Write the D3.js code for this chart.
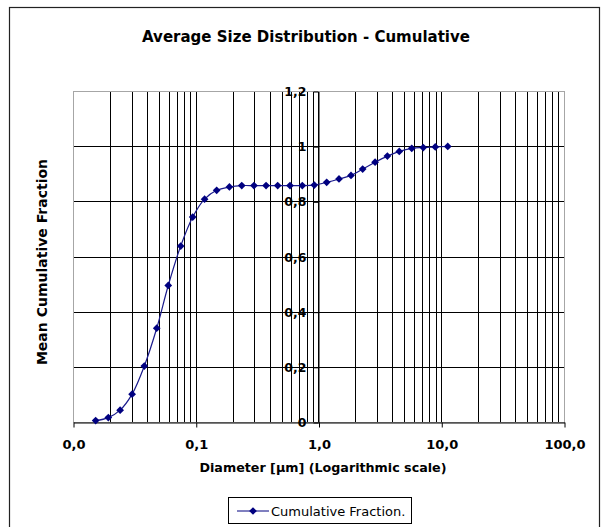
<!DOCTYPE html>
<html>
<head>
<meta charset="utf-8">
<script src="https://cdn.jsdelivr.net/npm/d3@7"></script>
<style>
  body { margin: 0; background: #fff; }
  text { font-family: "DejaVu Sans", "Liberation Sans", Arial, sans-serif; }
</style>
</head>
<body>
<script>
// Chart data
var diameters = [0.0153, 0.0194, 0.0242, 0.0303, 0.0381, 0.0481, 0.0597, 0.0754, 0.0945, 0.118,
  0.148, 0.188, 0.237, 0.298, 0.374, 0.465, 0.586, 0.738, 0.924, 1.166,
  1.469, 1.84, 2.29, 2.89, 3.64, 4.55, 5.75, 7.14, 8.94, 11.3];
var fractions = [0.005, 0.016, 0.043, 0.101, 0.203, 0.340, 0.495, 0.638, 0.743, 0.808,
  0.840, 0.852, 0.857, 0.857, 0.857, 0.857, 0.857, 0.857, 0.859, 0.869,
  0.881, 0.894, 0.917, 0.942, 0.964, 0.981, 0.992, 0.995, 0.997, 0.999];
var xTicks = [0.01, 0.1, 1, 10, 100];
var yTicks = [0, 0.2, 0.4, 0.6, 0.8, 1, 1.2];
var seriesName = "Cumulative Fraction.";

// SVG area
var svgWidth = 604;
var svgHeight = 527;

// plot area edges
var margin = { top: 91, right: 40, bottom: 105, left: 73 };
var chartWidth = svgWidth - margin.left - margin.right;
var chartHeight = svgHeight - margin.top - margin.bottom;

var svg = d3.select("body")
  .append("svg")
  .attr("width", svgWidth)
  .attr("height", svgHeight);

svg.append("rect")
  .attr("width", svgWidth)
  .attr("height", svgHeight)
  .attr("fill", "#fff");

// outer chart frame
svg.append("rect")
  .attr("x", 9.5)
  .attr("y", 7.5)
  .attr("width", 590)
  .attr("height", 530)
  .attr("fill", "none")
  .attr("stroke", "#222")
  .attr("stroke-width", 1.2);

svg.append("text")
  .attr("x", 306)
  .attr("y", 42)
  .attr("text-anchor", "middle")
  .style("font-size", "15px")
  .style("font-weight", "bold")
  .text("Average Size Distribution  - Cumulative");

var chartGroup = svg.append("g")
  .attr("transform", `translate(${margin.left}, ${margin.top})`);

var xLogScale = d3.scaleLog()
  .domain([0.01, 100])
  .range([0, chartWidth]);

var yLinearScale = d3.scaleLinear()
  .domain([0, 1.2])
  .range([chartHeight, 0]);

var locale = d3.formatLocale({ decimal: ",", thousands: ".", grouping: [3], currency: ["", ""] });

// minor log gridlines (inner ones only, edges are the plot frame)
var vGrid = [];
[0.01, 0.1, 1, 10].forEach(function(decade) {
  d3.range(1, 10).forEach(function(k) { vGrid.push(decade * k); });
});
vGrid = vGrid.filter(d => d > 0.01 && d < 100);

chartGroup.append("g")
  .selectAll("line")
  .data(vGrid)
  .enter()
  .append("line")
  .attr("x1", d => Math.round(xLogScale(d)) + 0.5)
  .attr("x2", d => Math.round(xLogScale(d)) + 0.5)
  .attr("y1", 0)
  .attr("y2", chartHeight)
  .attr("stroke", "#000")
  .attr("stroke-width", 1);

chartGroup.append("g")
  .selectAll("line")
  .data(yTicks.filter(d => d > 0 && d < 1.2))
  .enter()
  .append("line")
  .attr("x1", 0)
  .attr("x2", chartWidth)
  .attr("y1", d => Math.round(yLinearScale(d)) + 0.5)
  .attr("y2", d => Math.round(yLinearScale(d)) + 0.5)
  .attr("stroke", "#000")
  .attr("stroke-width", 1);

// plot frame
chartGroup.append("rect")
  .attr("x", 0.5)
  .attr("y", 0.5)
  .attr("width", chartWidth)
  .attr("height", chartHeight)
  .attr("fill", "none")
  .attr("stroke", "#a6a6a6");

// x axis at the bottom
var bottomAxis = d3.axisBottom(xLogScale)
  .tickValues(xTicks)
  .tickFormat(locale.format(".1f"))
  .tickSize(5)
  .tickSizeOuter(0)
  .tickPadding(12);

var xAxisGroup = chartGroup.append("g")
  .attr("transform", "translate(0.5, " + (chartHeight + 0.5) + ")")
  .call(bottomAxis);
xAxisGroup.selectAll("text")
  .style("font-size", "13px")
  .style("font-weight", "bold")
  .attr("fill", "#000");

// y axis crosses at x = 1
var leftAxis = d3.axisLeft(yLinearScale)
  .tickValues(yTicks)
  .tickFormat(locale.format("~g"))
  .tickSize(5)
  .tickSizeOuter(0)
  .tickPadding(7);

var yAxisGroup = chartGroup.append("g")
  .attr("transform", "translate(" + (Math.round(xLogScale(1)) + 0.5) + ", 0.5)")
  .call(leftAxis);
yAxisGroup.selectAll("text")
  .style("font-size", "12.5px")
  .style("font-weight", "bold")
  .attr("fill", "#000");

// series line, smoothed
var drawLine = d3.line()
  .x((d, i) => xLogScale(diameters[i]))
  .y(d => yLinearScale(d))
  .curve(d3.curveCatmullRom);

chartGroup.append("path")
  .attr("d", drawLine(fractions))
  .attr("fill", "none")
  .attr("stroke", "#1a1a8c")
  .attr("stroke-width", 1.2);

var diamond = d3.symbol().type(d3.symbolSquare).size(30);

chartGroup.append("g")
  .selectAll("path")
  .data(fractions)
  .enter()
  .append("path")
  .attr("d", diamond)
  .attr("transform", (d, i) => `translate(${xLogScale(diameters[i])}, ${yLinearScale(d)}) rotate(45)`)
  .attr("fill", "#000080");

// axis titles
svg.append("text")
  .attr("x", 323)
  .attr("y", 472)
  .attr("text-anchor", "middle")
  .style("font-size", "12.7px")
  .style("font-weight", "bold")
  .text("Diameter [µm] (Logarithmic scale)");

svg.append("text")
  .attr("transform", "translate(47, 262) rotate(-90)")
  .attr("text-anchor", "middle")
  .style("font-size", "14px")
  .style("font-weight", "bold")
  .text("Mean Cumulative Fraction");

// legend
var legend = svg.append("g");
legend.append("rect")
  .attr("x", 228.5)
  .attr("y", 497.5)
  .attr("width", 183)
  .attr("height", 26)
  .attr("fill", "#fff")
  .attr("stroke", "#000");
legend.append("line")
  .attr("x1", 237)
  .attr("x2", 269)
  .attr("y1", 511)
  .attr("y2", 511)
  .attr("stroke", "#000080");
legend.append("path")
  .attr("d", diamond)
  .attr("transform", "translate(253, 511) rotate(45)")
  .attr("fill", "#000080");
legend.append("text")
  .attr("x", 271)
  .attr("y", 515.5)
  .style("font-size", "13px")
  .text(seriesName);
</script>
</body>
</html>
